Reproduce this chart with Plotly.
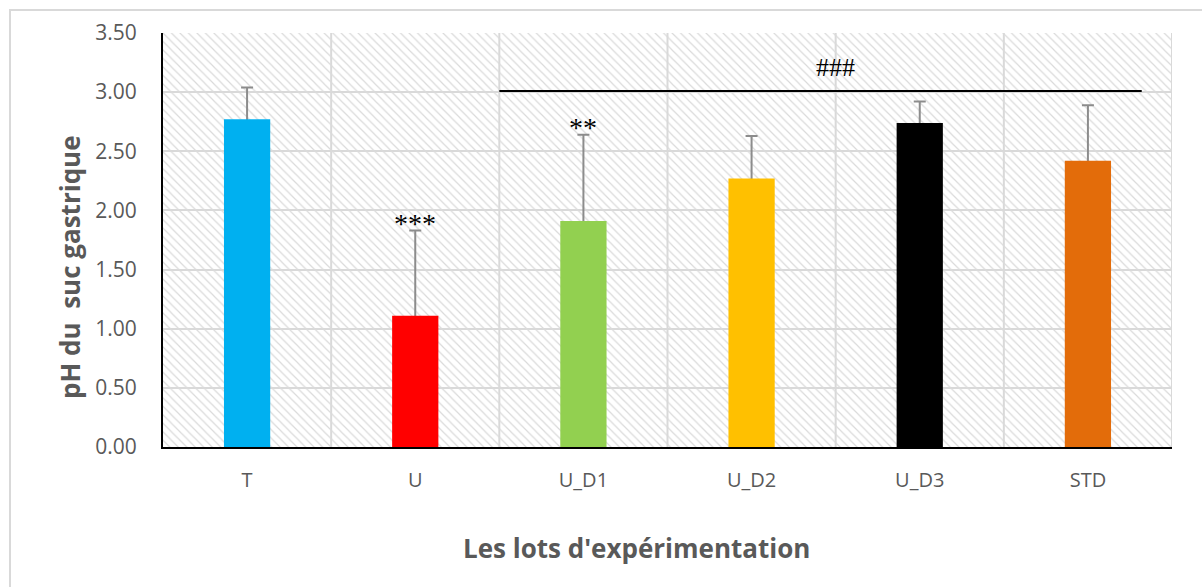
import plotly.graph_objects as go

# Groups, mean gastric pH and standard deviation (upper bar only)
groups = ["T", "U", "U_D1", "U_D2", "U_D3", "STD"]
ph_mean = [2.77, 1.11, 1.91, 2.27, 2.74, 2.42]
ph_sd = [0.27, 0.72, 0.73, 0.36, 0.18, 0.47]
bar_colors = ["#00b0f0", "#ff0000", "#92d050", "#ffc000", "#000000", "#e36c0a"]

# Significance marks vs T (stars) and vs U (hashes)
star_labels = ["", "***", "**", "", "", ""]
hash_label = "###"
hash_span = (1.5, 5.32)
hash_y = 3.01

y_ticks = [0, 0.5, 1.0, 1.5, 2.0, 2.5, 3.0, 3.5]
y_max = 3.5

x_title = "Les lots d'expérimentation"
y_title = "pH du  suc gastrique"

W, H = 1202, 587
ml, mr, mt, mb = 163, 30, 33, 140
pw = W - ml - mr
ph = H - mt - mb


def px_to_paper(px, py):
    """Convert page pixel position to paper coordinates."""
    return (px - ml) / pw, (H - mb - py) / ph


fig = go.Figure()

# Hatched plot-area background, one full-width band per category
fig.add_trace(go.Bar(
    x=groups, y=[y_max] * len(groups), width=1.0,
    marker=dict(
        color="rgba(0,0,0,0)",
        line=dict(width=0),
        pattern=dict(shape="\\", fgcolor="#dadada", bgcolor="rgba(0,0,0,0)",
                     size=6, solidity=0.2, fillmode="replace"),
    ),
    hoverinfo="skip", showlegend=False,
))

# Error bars on a transparent copy of the bars; the coloured bars hide the lower cap
fig.add_trace(go.Bar(
    x=groups, y=ph_mean, width=0.275,
    marker=dict(color="rgba(0,0,0,0)", line=dict(width=0)),
    error_y=dict(type="data", array=ph_sd, arrayminus=[0.05] * len(groups),
                 symmetric=False, color="#8c8c8c", thickness=2, width=6),
    hoverinfo="skip", showlegend=False,
))

# Data bars
fig.add_trace(go.Bar(
    x=groups, y=ph_mean, width=0.275,
    marker=dict(color=bar_colors, line=dict(width=0)),
    showlegend=False,
))

# Star annotations just above the error bars
for g, m, s, lab in zip(groups, ph_mean, ph_sd, star_labels):
    if lab:
        fig.add_annotation(x=g, y=m + s, text=lab, showarrow=False,
                           yanchor="bottom", yshift=-10,
                           font=dict(family="Liberation Serif", size=28, color="#000000"))

# Comparison line with hashes
fig.add_shape(type="line", xref="x", yref="y",
              x0=hash_span[0], x1=hash_span[1], y0=hash_y, y1=hash_y,
              line=dict(color="#000000", width=2))
fig.add_annotation(x=3.5, y=hash_y, text=hash_label, showarrow=False,
                   yanchor="bottom", yshift=7,
                   font=dict(family="Liberation Serif", size=26, color="#000000"))

# Axis titles placed as annotations
tx, ty = px_to_paper(636, 548)
fig.add_annotation(xref="paper", yref="paper", x=tx, y=ty, text=f"<b>{x_title}</b>",
                   showarrow=False, xanchor="center", yanchor="middle",
                   font=dict(size=26, color="#595959"))
tx, ty = px_to_paper(70, 267)
fig.add_annotation(xref="paper", yref="paper", x=tx, y=ty, text=f"<b>{y_title}</b>",
                   showarrow=False, xanchor="center", yanchor="middle", textangle=-90,
                   font=dict(size=26, color="#595959"))

# Outer chart border (runs past the right and bottom edges)
x0, y0 = px_to_paper(10, 600)
x1, y1 = px_to_paper(1220, 10)
fig.add_shape(type="rect", xref="paper", yref="paper",
              x0=x0, x1=x1, y0=y0, y1=y1,
              line=dict(color="#d9d9d9", width=2), layer="below")

fig.update_layout(
    width=W, height=H,
    margin=dict(l=ml, r=mr, t=mt, b=mb),
    paper_bgcolor="#ffffff", plot_bgcolor="#ffffff",
    barmode="overlay",
    font=dict(family="Open Sans", color="#595959"),
    xaxis=dict(
        type="category", range=[-0.5, 5.5],
        showgrid=False, showline=True, linecolor="#000000", linewidth=2,
        ticks="", ticklabelstandoff=14,
        tickfont=dict(size=20, color="#595959"),
    ),
    yaxis=dict(
        range=[0, y_max], tickvals=y_ticks,
        ticktext=[f"{v:.2f}" for v in y_ticks],
        showgrid=True, gridcolor="#d9d9d9", gridwidth=2,
        showline=True, linecolor="#000000", linewidth=2, zeroline=False,
        ticks="", ticklabelstandoff=20,
        tickfont=dict(size=21, color="#595959"),
    ),
)

# Vertical grid lines at category boundaries
for i in range(len(groups)):
    fig.add_shape(type="line", xref="x", yref="paper",
                  x0=i + 0.5, x1=i + 0.5, y0=0, y1=1,
                  line=dict(color="#d9d9d9", width=2), layer="below")

fig.write_html("out.html")
